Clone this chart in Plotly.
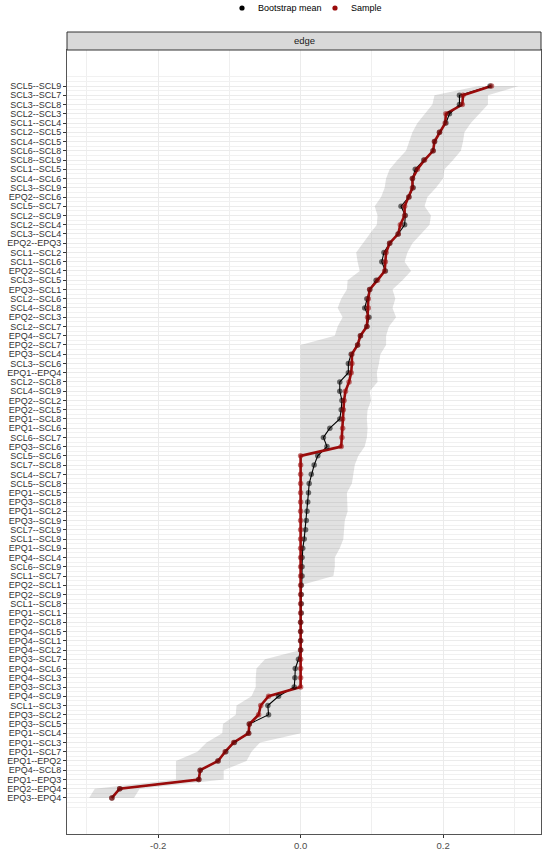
import plotly.graph_objects as go

# edges, ordered top to bottom as in the plot
edges = [
    "SCL5--SCL9", "SCL3--SCL7", "SCL3--SCL8", "SCL2--SCL3", "SCL1--SCL4",
    "SCL2--SCL5", "SCL4--SCL5", "SCL6--SCL8", "SCL8--SCL9", "SCL1--SCL5",
    "SCL4--SCL6", "SCL3--SCL9", "EPQ2--SCL6", "SCL5--SCL7", "SCL2--SCL9",
    "SCL2--SCL4", "SCL3--SCL4", "EPQ2--EPQ3", "SCL1--SCL2", "SCL1--SCL6",
    "EPQ2--SCL4", "SCL3--SCL5", "EPQ3--SCL1", "SCL2--SCL6", "SCL4--SCL8",
    "EPQ2--SCL3", "SCL2--SCL7", "EPQ4--SCL7", "EPQ2--SCL7", "EPQ3--SCL4",
    "SCL3--SCL6", "EPQ1--EPQ4", "SCL2--SCL8", "SCL4--SCL9", "EPQ2--SCL2",
    "EPQ2--SCL5", "EPQ1--SCL8", "EPQ1--SCL6", "SCL6--SCL7", "EPQ3--SCL6",
    "SCL5--SCL6", "SCL7--SCL8", "SCL4--SCL7", "SCL5--SCL8", "EPQ1--SCL5",
    "EPQ3--SCL8", "EPQ1--SCL2", "EPQ3--SCL9", "SCL7--SCL9", "SCL1--SCL9",
    "EPQ1--SCL9", "EPQ4--SCL4", "SCL6--SCL9", "SCL1--SCL7", "EPQ2--SCL1",
    "EPQ2--SCL9", "SCL1--SCL8", "EPQ1--SCL1", "EPQ2--SCL8", "EPQ4--SCL5",
    "EPQ4--SCL1", "EPQ4--SCL2", "EPQ3--SCL7", "EPQ4--SCL6", "EPQ4--SCL3",
    "EPQ3--SCL3", "EPQ4--SCL9", "SCL1--SCL3", "EPQ3--SCL2", "EPQ3--SCL5",
    "EPQ1--SCL4", "EPQ1--SCL3", "EPQ1--SCL7", "EPQ1--EPQ2", "EPQ4--SCL8",
    "EPQ1--EPQ3", "EPQ2--EPQ4", "EPQ3--EPQ4",
]

sample = [
    0.268, 0.228, 0.227, 0.204, 0.203, 0.195, 0.188, 0.186, 0.174, 0.164,
    0.157, 0.157, 0.152, 0.146, 0.146, 0.140, 0.137, 0.125, 0.120, 0.119,
    0.118, 0.108, 0.097, 0.095, 0.095, 0.094, 0.093, 0.084, 0.080, 0.072,
    0.072, 0.071, 0.068, 0.063, 0.061, 0.060, 0.059, 0.059, 0.058, 0.057,
    0, 0, 0, 0, 0, 0, 0, 0, 0, 0,
    0, 0, 0, 0, 0, 0, 0, 0, 0, 0,
    0, 0, 0, 0, 0, 0,
    -0.045, -0.056, -0.059, -0.072, -0.073, -0.094, -0.106, -0.116,
    -0.141, -0.143, -0.254, -0.265,
]

boot_mean = [
    0.266, 0.223, 0.223, 0.209, 0.204, 0.195, 0.188, 0.186, 0.173, 0.161,
    0.157, 0.158, 0.152, 0.141, 0.147, 0.146, 0.137, 0.125, 0.117, 0.114,
    0.119, 0.106, 0.097, 0.093, 0.090, 0.096, 0.093, 0.084, 0.080, 0.071,
    0.067, 0.067, 0.055, 0.055, 0.058, 0.057, 0.055, 0.041, 0.032, 0.037,
    0.024, 0.019, 0.015, 0.012, 0.011, 0.010, 0.009, 0.008, 0.007, 0.005,
    0.003, 0.002, 0.002, 0.002, 0.001, 0.001, 0.001, 0.001, 0.0, 0.0,
    0.0, 0.0, -0.003, -0.0075, -0.008, -0.009,
    -0.031, -0.046, -0.045, -0.072, -0.073, -0.093, -0.105, -0.116,
    -0.141, -0.143, -0.254, -0.265,
]

ci_lower = [
    0.25, 0.188, 0.185, 0.174, 0.164, 0.157, 0.153, 0.148, 0.136, 0.125,
    0.120, 0.118, 0.113, 0.104, 0.108, 0.107, 0.097, 0.087, 0.078, 0.080,
    0.083, 0.066, 0.065, 0.057, 0.052, 0.059, 0.052, 0.048, 0, 0,
    0, 0, 0, 0, 0, 0, 0, 0, 0, 0,
    0, 0, 0, 0, 0, 0, 0, 0, 0, 0,
    0, 0, 0, 0, 0, 0, 0, 0, 0, 0,
    0, 0, -0.050, -0.062, -0.063, -0.063,
    -0.069, -0.090, -0.091, -0.109, -0.110, -0.132, -0.145, -0.175,
    -0.175, -0.175, -0.289, -0.297,
]

ci_upper = [
    0.306, 0.263, 0.263, 0.251, 0.239, 0.230, 0.228, 0.225, 0.214, 0.202,
    0.200, 0.190, 0.178, 0.174, 0.183, 0.181, 0.169, 0.157, 0.150, 0.146,
    0.155, 0.143, 0.129, 0.133, 0.129, 0.134, 0.124, 0.120, 0.120, 0.112,
    0.110, 0.107, 0.108, 0.097, 0.099, 0.094, 0.093, 0.094, 0.093, 0.090,
    0.081, 0.076, 0.074, 0.072, 0.065, 0.066, 0.066, 0.062, 0.061, 0.060,
    0.055, 0.048, 0.048, 0.046, 0, 0, 0, 0, 0, 0,
    0, 0, 0, 0, 0, 0,
    0, 0, 0, 0, 0, -0.057, -0.069, -0.076,
    -0.108, -0.108, -0.226, -0.234,
]

rows = list(range(len(edges)))
RED = "#9a0b0b"

fig = go.Figure()

# bootstrap CI area
fig.add_trace(go.Scatter(
    x=ci_lower + ci_upper[::-1],
    y=rows + rows[::-1],
    fill="toself", fillcolor="rgba(128,128,128,0.24)",
    line=dict(width=0), mode="lines",
    showlegend=False, hoverinfo="skip",
))

# lines
fig.add_trace(go.Scatter(x=boot_mean, y=rows, mode="lines",
                         line=dict(color="black", width=1.1), showlegend=False))
fig.add_trace(go.Scatter(x=sample, y=rows, mode="lines",
                         line=dict(color=RED, width=2.6), showlegend=False))
# points
fig.add_trace(go.Scatter(x=boot_mean, y=rows, mode="markers",
                         marker=dict(color="black", size=5.5, opacity=0.55),
                         showlegend=False))
fig.add_trace(go.Scatter(x=sample, y=rows, mode="markers",
                         marker=dict(color=RED, size=5.5, opacity=0.55),
                         showlegend=False))

W, H = 543, 851
L, R, T, B = 67, 2, 50, 17
plot_w = W - L - R
plot_h = H - T - B
strip_h = 18 / plot_h


def px_x(px):
    return (px - L) / plot_w


def px_y(py):
    return (H - B - py) / plot_h


# facet strip
fig.add_shape(type="rect", xref="paper", yref="paper",
              x0=0, x1=1, y0=1, y1=1 + strip_h,
              fillcolor="#D9D9D9", line=dict(color="#333333", width=1))
fig.add_annotation(text="edge", xref="paper", yref="paper",
                   x=0.5, y=1 + strip_h / 2, xanchor="center", yanchor="middle",
                   showarrow=False, font=dict(size=9.5, color="#1A1A1A"))

# legend drawn by hand at the top
legend_items = [("Bootstrap mean", "black", 242, 256), ("Sample", RED, 335, 349)]
for label, colour, dot_x, text_x in legend_items:
    r = 2.6
    fig.add_shape(type="circle", xref="paper", yref="paper",
                  x0=px_x(dot_x - r), x1=px_x(dot_x + r),
                  y0=px_y(8 + r), y1=px_y(8 - r),
                  fillcolor=colour, line=dict(width=0))
    fig.add_annotation(text=label, xref="paper", yref="paper",
                       x=px_x(text_x), y=px_y(8), xanchor="left", yanchor="middle",
                       showarrow=False, font=dict(size=9, color="black"))

minor_y = [-1] + [k + 0.5 for k in range(-1, 78)] + [78]

fig.update_layout(
    width=W, height=H,
    margin=dict(l=L, r=R, t=T, b=B),
    plot_bgcolor="white", paper_bgcolor="white",
    font=dict(family="Liberation Sans, Arial", size=10, color="black"),
    showlegend=False,
    xaxis=dict(
        range=[-0.328, 0.3375], automargin=False,
        tickvals=[-0.2, 0.0, 0.2], ticktext=["-0.2", "0.0", "0.2"],
        ticks="outside", ticklen=3, tickcolor="#333333",
        tickfont=dict(size=9.5, color="#4D4D4D"),
        showgrid=True, gridcolor="#EBEBEB", gridwidth=1,
        minor=dict(tickvals=[-0.3, -0.1, 0.1, 0.3], showgrid=True,
                   gridcolor="#EFEFEF", gridwidth=0.8),
        zeroline=False,
        showline=True, mirror=True, linecolor="#555555", linewidth=1,
    ),
    yaxis=dict(
        range=[80.9, -3.9], automargin=False,
        tickvals=rows, ticktext=edges,
        ticks="outside", ticklen=3, tickcolor="#333333",
        tickfont=dict(size=9, color="#333333"),
        showgrid=True, gridcolor="#EBEBEB", gridwidth=0.9,
        minor=dict(tickvals=minor_y, showgrid=True,
                   gridcolor="#F1F1F1", gridwidth=0.6),
        zeroline=False,
        showline=True, mirror=True, linecolor="#555555", linewidth=1,
    ),
)

# remove the page's default body margin so the figure sits at the top-left corner
fig.write_html("out.html",
               config={"displayModeBar": False},
               post_script="document.body.style.margin='0';document.body.style.padding='0';")
